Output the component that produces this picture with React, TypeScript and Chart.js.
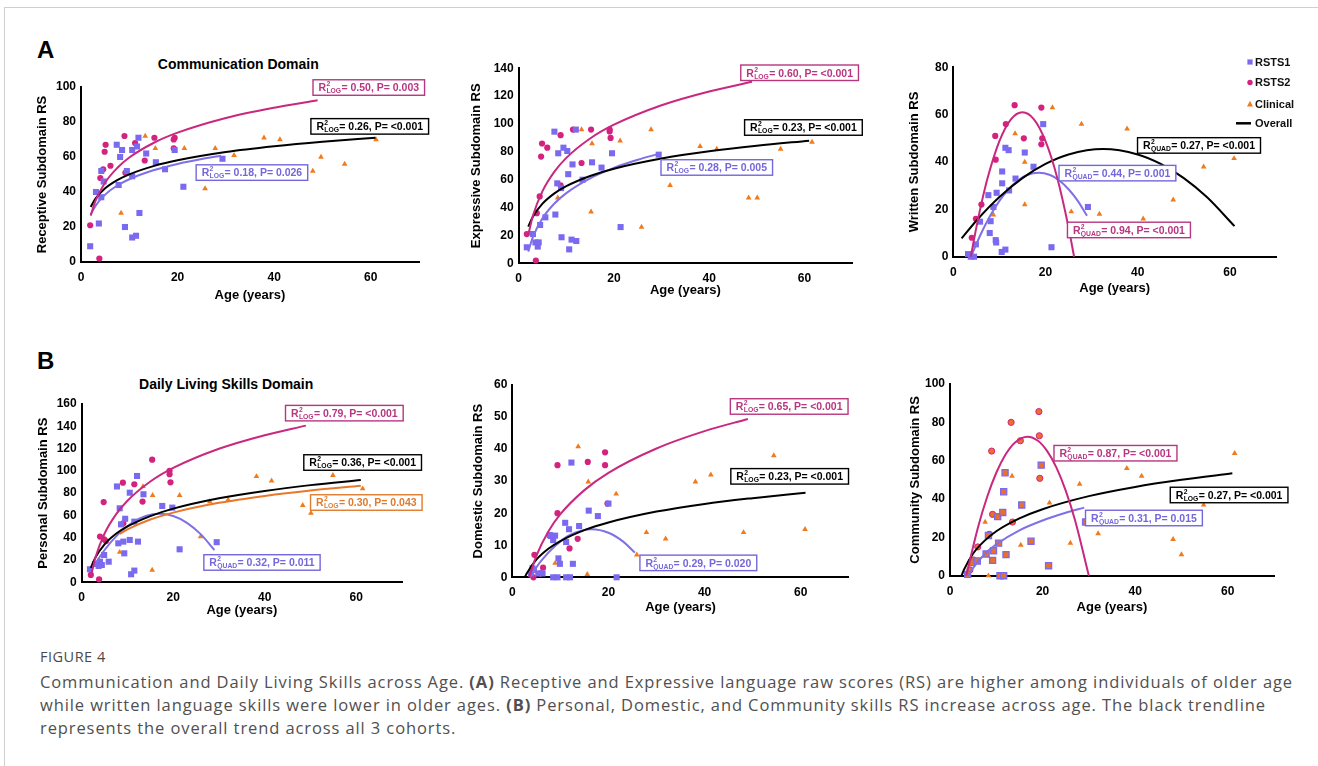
import React, { useEffect, useRef } from 'react';
import { Chart, registerables } from 'chart.js';
Chart.register(...registerables);

type Pt = [number, number];

// ---------- shared tick labels ----------
const ageTicks = [0, 20, 40, 60];

// ---------- Receptive ----------
const receptiveRSTS1: Pt[] = [[1.9,9],[3.1,40],[3.7,22],[4.2,52],[4.2,37],[4.7,46],[7.4,67],[7.8,44],[8.1,60],[8.5,64],[9.1,20],[9.5,52],[10.6,49],[10.6,64],[10.6,14],[11.4,15],[11.6,66],[11.9,71],[12.1,28],[13.5,62],[15.5,57],[17.4,53],[19.4,64],[21.2,43],[29.3,59]];
const receptiveRSTS2: Pt[] = [[1.9,21],[3.8,2],[4.0,48],[4.6,53],[4.9,63],[5.1,67],[6.1,55],[9.0,72],[9.2,51],[11.2,68],[13.2,58],[15.2,71],[19.2,70],[19.2,65],[19.4,71]];
const receptiveClinical: Pt[] = [[8.3,28],[13.3,72],[15.4,65],[21.4,65],[25.7,42],[27.8,65],[31.7,61],[37.9,71],[41.2,70],[48.0,52],[49.7,60],[54.6,56],[61.1,70]];
const receptiveFitRSTS2: Pt[] = [[2,26.5],[3,34.9],[5,45.4],[7.5,53.7],[10,59.7],[15,68],[20,73.9],[30,82.3],[40,88.2],[49,92.4]];
const receptiveFitOverall: Pt[] = [[2,31.5],[3,36.2],[5,42.1],[7.5,46.8],[10,50.1],[15,54.8],[20,58.1],[30,62.8],[40,66.1],[50,68.7],[61,71]];
const receptiveFitRSTS1: Pt[] = [[2,27],[3,32.1],[5,38.5],[7.5,43.7],[10,47.3],[15,52.4],[20,56],[25,58.8],[29,60.7]];

// ---------- Expressive ----------
const expressiveRSTS1: Pt[] = [[1.7,11.5],[3.0,21],[3.5,15],[4.0,12],[4.2,15],[4.5,27.5],[5.6,33],[7.5,94.5],[7.7,35],[8.1,57.4],[8.3,79],[8.9,54],[9.0,18.7],[9.4,83],[10.2,80.6],[10.4,64],[10.6,10],[11.1,17],[11.3,71],[12.0,96],[12.1,16],[13.4,60],[15.4,72.5],[17.4,68.7],[19.6,79],[21.4,26],[29.4,78]];
const expressiveRSTS2: Pt[] = [[1.7,21],[3.6,2],[3.8,36],[4.4,48],[4.7,76.6],[4.9,86],[6.0,83],[8.8,92],[8.8,56],[11.4,96],[13.2,72],[15.2,96],[19.1,96],[19.1,94.7],[19.3,90]];
const expressiveClinical: Pt[] = [[8.2,47],[13.2,96],[15.2,37],[15.4,86],[21.3,88],[25.8,26],[27.8,96],[31.8,56],[38.1,84],[41.6,82],[48.3,47],[50.1,47],[55.0,82],[61.6,87]];
const expressiveFitRSTS2: Pt[] = [[2,20.3],[3,34.3],[5,51.8],[7.5,65.8],[10,75.7],[15,89.6],[20,99.5],[30,113.5],[40,123.4],[49,130.3]];
const expressiveFitOverall: Pt[] = [[2,26.3],[3,33.6],[5,42.8],[7.5,50.2],[10,55.4],[15,62.7],[20,67.9],[30,75.2],[40,80.4],[50,84.4],[61,88]];
const expressiveFitRSTS1: Pt[] = [[2,8.4],[3,19],[5,32.3],[7.5,42.9],[10,50.4],[15,61],[20,68.5],[25,74.3],[29,78.2]];

// ---------- Written ----------
const writtenRSTS1: Pt[] = [[3.2,1.1],[3.8,0],[4.5,0],[4.9,5.2],[5.8,14.8],[7.6,26],[7.9,10],[8.1,15],[8.7,21],[9.2,7],[9.3,6],[9.4,27],[10.5,2],[10.6,36],[10.6,31],[11.3,3],[11.3,46],[12.0,45],[12.1,28],[13.5,33],[15.5,44],[17.4,38],[19.5,56],[21.3,4],[29.2,21]];
const writtenRSTS2: Pt[] = [[4.0,8],[4.9,16],[6.1,22],[9.1,51],[9.2,41],[11.4,56],[13.3,64],[15.3,50],[19.1,63],[19.3,50],[19.1,47.5]];
const writtenClinical: Pt[] = [[8.7,17.7],[13.4,52],[15.5,40],[15.5,22],[21.5,63],[25.6,19],[27.8,56],[31.7,18],[37.7,54],[41.2,16],[47.7,24],[49.6,9],[54.3,38],[60.9,41.5]];
const writtenFitRSTS2: Pt[] = [[3.8,0],[5,12.4],[6.5,25.9],[7.5,33.7],[10,48.8],[12.5,58],[15,61],[17.5,58],[20,48.8],[22.5,33.7],[25,12.4],[26.2,0]];
const writtenFitOverall: Pt[] = [[1.8,7.7],[5,15.2],[10,25.2],[15,33.2],[20,39.2],[25,43.2],[32.5,45.5],[40,43.2],[45,39.2],[50,33.2],[55,25.2],[61,12.9]];
const writtenFitRSTS1: Pt[] = [[4,0.8],[6,9.7],[8,17.3],[10,23.6],[12,28.5],[14,32.2],[16,34.5],[18.5,35.5],[21,34.5],[23,32.2],[25,28.5],[27,23.6],[29,17.3]];

// ---------- Personal ----------
const personalRSTS1: Pt[] = [[1.8,11.7],[2.9,16.4],[3.7,14.7],[4.0,18.5],[4.4,15.5],[4.9,24.5],[5.9,18.5],[7.7,86],[8.0,35],[8.3,66.4],[8.6,52],[9.1,36.5],[9.3,26],[9.5,57],[10.5,80.4],[10.5,38],[10.8,7.2],[11.5,10.5],[11.5,54.4],[12.1,95.4],[12.3,36.5],[13.5,79],[17.6,68.5],[19.8,67],[21.4,29.6],[29.5,36]];
const personalRSTS2: Pt[] = [[2.0,6.6],[3.8,2.7],[4.0,41],[4.8,72],[4.9,38.6],[5.3,37],[9.0,89.4],[9.1,53],[11.5,88],[13.3,72.4],[15.4,110],[19.2,100],[19.2,97],[19.4,89.7]];
const personalClinical: Pt[] = [[8.3,27],[13.4,86],[15.5,78],[15.4,11],[21.4,78],[26.0,41],[28.0,72.4],[32.0,74],[38.2,95],[41.5,91],[48.3,69],[50.1,62],[54.9,96],[61.4,84]];
const personalFitRSTS2: Pt[] = [[2,5],[3,22.2],[5,43.8],[7.5,61],[10,73.2],[15,90.4],[20,102.6],[30,119.8],[40,132],[49,140.6]];
const personalFitOverall: Pt[] = [[2,13],[3,22.3],[5,34.1],[7.5,43.5],[10,50.1],[15,59.4],[20,66.1],[30,75.4],[40,82],[50,87.2],[61,91.8]];
const personalFitClinical: Pt[] = [[8.3,43.4],[10,47.5],[15,56.3],[20,62.5],[30,71.3],[40,77.5],[50,82.4],[61,86.7]];
const personalFitRSTS1: Pt[] = [[2,10.7],[5,29],[8,43.2],[11,53.4],[14,59.5],[17,61.5],[20,59.5],[23,53.4],[26,43.2],[29,29]];

// ---------- Domestic ----------
const domesticRSTS1: Pt[] = [[3.9,1.2],[4.2,2.8],[4.5,2.3],[5.4,1.2],[6.3,1.2],[7.8,13.2],[8.0,12.9],[8.5,11.6],[8.9,13],[8.5,0],[9.4,0],[9.6,5.9],[9.9,4.2],[11.0,17],[11.2,11],[11.8,15],[11.2,0],[12.0,0],[12.3,35.8],[12.6,4.2],[13.9,16],[15.9,20.8],[17.8,19.1],[20.0,23],[21.7,0]];
const domesticRSTS2: Pt[] = [[4.4,0],[4.6,7],[5.8,1.2],[6.4,3],[9.4,35],[9.4,20],[11.9,9],[13.6,12],[15.7,36],[19.3,39],[19.3,35],[19.8,23]];
const domesticClinical: Pt[] = [[8.9,4.4],[13.7,40.8],[15.6,0.9],[15.8,29.8],[21.6,26],[25.9,7],[27.9,14],[31.9,12],[38.1,29.8],[41.3,32],[48.1,14],[49.8,5.9],[54.4,38],[60.9,15]];
const domesticFitRSTS2: Pt[] = [[3.5,0],[5,6.7],[7.5,14.3],[10,19.7],[15,27.2],[20,32.6],[30,40.2],[40,45.6],[49,49.4]];
const domesticFitOverall: Pt[] = [[2.6,0],[3,1.2],[5,5.5],[7.5,8.9],[10,11.3],[15,14.7],[20,17.1],[30,20.5],[40,22.9],[50,24.7],[61,26.4]];
const domesticFitRSTS1: Pt[] = [[3.6,0],[6,5.1],[9,9.9],[12,13.2],[16.5,15],[20,13.9],[23,11.2],[25.5,7.7]];

// ---------- Community ----------
const communityRSTS1: Pt[] = [[3.8,0.7],[4.7,6.8],[5.9,7.7],[7.8,11.3],[8.3,21],[9.2,8],[9.4,13],[10.3,30.8],[10.5,17],[10.8,0],[11.6,0],[11.4,33],[11.6,43.8],[11.9,53.7],[12.1,11],[15.5,36.9],[17.5,18],[19.7,57.7],[21.3,5.2],[29.3,28]];
const communityRSTS2: Pt[] = [[4.3,3],[5.1,8.2],[6.0,15],[8.5,21.6],[9.0,65],[9.2,32],[13.2,80],[13.5,28],[15.2,70.4],[19.2,85.6],[19.3,73],[19.4,50.8]];
const communityClinical: Pt[] = [[3.8,0],[7.6,28],[8.3,0],[13.4,52],[15.3,16],[21.5,38],[26.0,17],[28.0,47.8],[32.0,22],[38.2,56],[41.4,52],[48.2,19],[50.0,11],[54.8,36.9],[61.5,63.8]];
const communityFitRSTS2: Pt[] = [[3.5,0],[6,24.8],[8,40.9],[10,53.7],[12,63.2],[14,69.4],[16.75,72.5],[19,70.4],[21,65],[23,56.4],[25,44.4],[27,29.1],[30,0]];
const communityFitOverall: Pt[] = [[2.5,0],[3,3],[5,11.6],[7.5,18.3],[10,23.2],[15,29.9],[20,34.7],[30,41.5],[40,46.3],[50,50],[61,53.4]];
const communityFitRSTS1: Pt[] = [[4,0],[5,4],[7.5,11.3],[10,16.4],[15,23.7],[20,28.8],[25,32.8],[29,35.5]];

// ---------- styles ----------
const COL = {
  sq: '#7a6af0',
  ci: '#d4237f',
  tr: '#f07b1c',
  lineMag: '#c9287f',
  lineBlue: '#7e70e6',
  lineOrange: '#e8782a',
  black: '#000000',
  noteMag: '#b83580',
  noteBlue: '#7466dc',
  noteOrange: '#e07a2c',
  commFill: '#e8702a',
};
const FONT = '"Liberation Sans", Arial, Helvetica, sans-serif';

interface Note { x: number; y: number; sub: string; rest: string; color: string }
interface Fit { data: Pt[]; color: string }
interface PanelCfg {
  yLabel: string; yMax: number; yStep: number;
  plot: { l: number; t: number; r: number; b: number };
  yTitleX: number; xTitleY: number;
  rsts1: Pt[]; rsts2: Pt[]; clinical: Pt[];
  fits: Fit[]; notes: Note[];
  community?: boolean; legend?: boolean;
}

const panels: PanelCfg[] = [
  {
    yLabel: 'Receptive Subdomain RS', yMax: 100, yStep: 20,
    plot: { l: 81, t: 87, r: 419, b: 262 }, yTitleX: 42.7, xTitleY: 295,
    rsts1: receptiveRSTS1, rsts2: receptiveRSTS2, clinical: receptiveClinical,
    fits: [
      { data: receptiveFitRSTS2, color: COL.lineMag },
      { data: receptiveFitOverall, color: COL.black },
      { data: receptiveFitRSTS1, color: COL.lineBlue },
    ],
    notes: [
      { x: 59.6, y: 99.7, sub: 'LOG', rest: '= 0.50, P= 0.003', color: COL.noteMag },
      { x: 59.8, y: 77.5, sub: 'LOG', rest: '= 0.26, P= <0.001', color: COL.black },
      { x: 35.4, y: 51.1, sub: 'LOG', rest: '= 0.18, P= 0.026', color: COL.noteBlue },
    ],
  },
  {
    yLabel: 'Expressive Subdomain RS', yMax: 140, yStep: 20,
    plot: { l: 518.7, t: 68.3, r: 852, b: 263.3 }, yTitleX: 476.7, xTitleY: 290,
    rsts1: expressiveRSTS1, rsts2: expressiveRSTS2, clinical: expressiveClinical,
    fits: [
      { data: expressiveFitRSTS2, color: COL.lineMag },
      { data: expressiveFitOverall, color: COL.black },
      { data: expressiveFitRSTS1, color: COL.lineBlue },
    ],
    notes: [
      { x: 59.0, y: 136.8, sub: 'LOG', rest: '= 0.60, P= <0.001', color: COL.noteMag },
      { x: 59.8, y: 97.5, sub: 'LOG', rest: '= 0.23, P= <0.001', color: COL.black },
      { x: 41.6, y: 68.8, sub: 'LOG', rest: '= 0.28, P= 0.005', color: COL.noteBlue },
    ],
  },
  {
    yLabel: 'Written Subdomain RS', yMax: 80, yStep: 20,
    plot: { l: 953.3, t: 67.3, r: 1276, b: 256.7 }, yTitleX: 915, xTitleY: 288,
    rsts1: writtenRSTS1, rsts2: writtenRSTS2, clinical: writtenClinical,
    fits: [
      { data: writtenFitRSTS2, color: COL.lineMag },
      { data: writtenFitOverall, color: COL.black },
      { data: writtenFitRSTS1, color: COL.lineBlue },
    ],
    notes: [
      { x: 53.3, y: 47.0, sub: 'QUAD', rest: '= 0.27, P= <0.001', color: COL.black },
      { x: 35.6, y: 35.3, sub: 'QUAD', rest: '= 0.44, P= 0.001', color: COL.noteBlue },
      { x: 38.1, y: 11.3, sub: 'QUAD', rest: '= 0.94, P= <0.001', color: COL.noteMag },
    ],
    legend: true,
  },
  {
    yLabel: 'Personal Subdomain RS', yMax: 160, yStep: 20,
    plot: { l: 81.7, t: 404, r: 402, b: 582.3 }, yTitleX: 44, xTitleY: 610,
    rsts1: personalRSTS1, rsts2: personalRSTS2, clinical: personalClinical,
    fits: [
      { data: personalFitRSTS2, color: COL.lineMag },
      { data: personalFitOverall, color: COL.black },
      { data: personalFitClinical, color: COL.lineOrange },
      { data: personalFitRSTS1, color: COL.lineBlue },
    ],
    notes: [
      { x: 57.4, y: 151.8, sub: 'LOG', rest: '= 0.79, P= <0.001', color: COL.noteMag },
      { x: 61.4, y: 107.5, sub: 'LOG', rest: '= 0.36, P= <0.001', color: COL.black },
      { x: 62.2, y: 71.6, sub: 'LOG', rest: '= 0.30, P= 0.043', color: COL.noteOrange },
      { x: 39.4, y: 17.8, sub: 'QUAD', rest: '= 0.32, P= 0.011', color: COL.noteBlue },
    ],
  },
  {
    yLabel: 'Domestic Subdomain RS', yMax: 60, yStep: 10,
    plot: { l: 512.3, t: 385, r: 848.8, b: 577.3 }, yTitleX: 478.3, xTitleY: 606.7,
    rsts1: domesticRSTS1, rsts2: domesticRSTS2, clinical: domesticClinical,
    fits: [
      { data: domesticFitRSTS2, color: COL.lineMag },
      { data: domesticFitOverall, color: COL.black },
      { data: domesticFitRSTS1, color: COL.lineBlue },
    ],
    notes: [
      { x: 57.6, y: 53.3, sub: 'LOG', rest: '= 0.65, P= <0.001', color: COL.noteMag },
      { x: 57.7, y: 31.5, sub: 'LOG', rest: '= 0.23, P= <0.001', color: COL.black },
      { x: 38.7, y: 4.5, sub: 'QUAD', rest: '= 0.29, P= 0.020', color: COL.noteBlue },
    ],
  },
  {
    yLabel: 'Community Subdomain RS', yMax: 100, yStep: 20,
    plot: { l: 950, t: 384, r: 1274, b: 575.7 }, yTitleX: 916, xTitleY: 606.7,
    rsts1: communityRSTS1, rsts2: communityRSTS2, clinical: communityClinical,
    fits: [
      { data: communityFitRSTS2, color: COL.lineMag },
      { data: communityFitOverall, color: COL.black },
      { data: communityFitRSTS1, color: COL.lineBlue },
    ],
    notes: [
      { x: 35.75, y: 63.9, sub: 'QUAD', rest: '= 0.87, P= <0.001', color: COL.noteMag },
      { x: 60.3, y: 42.1, sub: 'LOG', rest: '= 0.27, P= <0.001', color: COL.black },
      { x: 41.9, y: 30.1, sub: 'QUAD', rest: '= 0.31, P= 0.015', color: COL.noteBlue },
    ],
    community: true,
  },
];

const legendItems = [
  { label: 'RSTS1', kind: 'sq', y: 62 },
  { label: 'RSTS2', kind: 'ci', y: 82.5 },
  { label: 'Clinical', kind: 'tr', y: 104 },
  { label: 'Overall', kind: 'line', y: 123.3 },
];

const toXY = (p: Pt[]) => p.map(([x, y]) => ({ x, y }));
const HALF_LH = (13 * 1.2) / 2;

function geometry(cfg: PanelCfg) {
  const padTop = 25;
  const left = Math.round(cfg.yTitleX - HALF_LH);
  const top = Math.round(cfg.plot.t - padTop);
  const right = cfg.legend ? 1318 : Math.round(cfg.plot.r + 40);
  const bottom = Math.round(cfg.xTitleY + HALF_LH);
  return {
    left, top, width: right - left, height: bottom - top,
    padTop: cfg.plot.t - top, padRight: right - cfg.plot.r,
    yW: cfg.plot.l - left, xH: bottom - cfg.plot.b,
  };
}

function drawNote(ctx: CanvasRenderingContext2D, n: Note, cx: number, cy: number) {
  const fMain = `bold 10.5px ${FONT}`;
  const fSmall = `bold 6.8px ${FONT}`;
  ctx.font = fMain;
  const wR = ctx.measureText('R').width;
  const wRest = ctx.measureText(n.rest).width;
  ctx.font = fSmall;
  const w2 = ctx.measureText('2').width;
  const wSub = ctx.measureText(n.sub).width;
  const wMid = Math.max(w2, wSub) + 0.6;
  const tw = wR + wMid + wRest;
  const bw = tw + 11, bh = 15.5;
  const bx = cx - bw / 2, by = cy - bh / 2;
  ctx.save();
  ctx.fillStyle = '#ffffff';
  ctx.fillRect(bx, by, bw, bh);
  ctx.strokeStyle = n.color;
  ctx.lineWidth = 1.4;
  ctx.strokeRect(bx, by, bw, bh);
  ctx.fillStyle = n.color;
  ctx.textBaseline = 'alphabetic';
  ctx.textAlign = 'left';
  const x = bx + 5.5;
  ctx.font = fMain;
  ctx.fillText('R', x, cy + 3.8);
  ctx.font = fSmall;
  ctx.fillText('2', x + wR + 0.3, cy - 1.2);
  ctx.fillText(n.sub, x + wR + 0.3, cy + 5.8);
  ctx.font = fMain;
  ctx.fillText(n.rest, x + wR + wMid, cy + 3.8);
  ctx.restore();
}

function Panel({ cfg }: { cfg: PanelCfg }) {
  const ref = useRef<HTMLCanvasElement>(null);
  const g = geometry(cfg);
  useEffect(() => {
    const canvas = ref.current;
    if (!canvas) return;
    const fitSets = cfg.fits.map((f) => ({
      data: toXY(f.data),
      showLine: true,
      borderColor: f.color,
      backgroundColor: f.color,
      borderWidth: 2,
      pointRadius: 0,
      pointHoverRadius: 0,
      tension: 0.4,
      cubicInterpolationMode: 'monotone' as const,
      fill: false,
      clip: false as any,
    }));
    const pts = [
      {
        data: toXY(cfg.rsts1), pointStyle: 'rect', pointRadius: 4.3,
        backgroundColor: cfg.community ? COL.commFill : COL.sq,
        borderColor: COL.sq, borderWidth: cfg.community ? 1.3 : 0,
      },
      {
        data: toXY(cfg.rsts2), pointStyle: 'circle', pointRadius: 3.1,
        backgroundColor: cfg.community ? COL.commFill : COL.ci,
        borderColor: COL.ci, borderWidth: cfg.community ? 1 : 0,
      },
      {
        data: toXY(cfg.clinical), pointStyle: 'triangle', pointRadius: 3.3,
        backgroundColor: COL.tr, borderColor: COL.tr, borderWidth: 0,
      },
    ].map((d) => ({ ...d, showLine: false, clip: false as any }));

    const notesPlugin = {
      id: 'notes',
      afterDatasetsDraw(chart: any) {
        const ctx: CanvasRenderingContext2D = chart.ctx;
        const xs = chart.scales.x, ys = chart.scales.y;
        cfg.notes.forEach((n) => drawNote(ctx, n, xs.getPixelForValue(n.x), ys.getPixelForValue(n.y)));
        if (cfg.legend) {
          ctx.save();
          const ox = 1250 - g.left;
          legendItems.forEach((it) => {
            const y = it.y - g.top;
            if (it.kind === 'sq') {
              ctx.fillStyle = COL.sq;
              ctx.fillRect(ox - 2.6, y - 2.6, 5.2, 5.2);
            } else if (it.kind === 'ci') {
              ctx.fillStyle = COL.ci;
              ctx.beginPath(); ctx.arc(ox, y, 2.7, 0, Math.PI * 2); ctx.fill();
            } else if (it.kind === 'tr') {
              ctx.fillStyle = COL.tr;
              ctx.beginPath();
              ctx.moveTo(ox, y - 3.2); ctx.lineTo(ox + 3, y + 2.4); ctx.lineTo(ox - 3, y + 2.4);
              ctx.closePath(); ctx.fill();
            } else {
              ctx.strokeStyle = '#000'; ctx.lineWidth = 2.5;
              ctx.beginPath(); ctx.moveTo(ox - 14, y); ctx.lineTo(ox + 1, y); ctx.stroke();
            }
            ctx.fillStyle = '#111';
            ctx.font = `bold 11px ${FONT}`;
            ctx.textBaseline = 'middle';
            ctx.textAlign = 'left';
            ctx.fillText(it.label, ox + 5, y + 0.5);
          });
          ctx.restore();
        }
      },
    };

    const chart = new Chart(canvas, {
      type: 'scatter',
      data: { datasets: [...fitSets, ...pts] as any },
      options: {
        responsive: false,
        animation: false,
        events: [],
        layout: { padding: { left: 0, top: g.padTop, right: g.padRight, bottom: 0 } },
        plugins: { legend: { display: false }, tooltip: { enabled: false }, title: { display: false } },
        scales: {
          x: {
            type: 'linear', min: 0, max: 70,
            afterBuildTicks: (s: any) => { s.ticks = ageTicks.map((v) => ({ value: v })); },
            afterFit: (s: any) => { s.height = g.xH; },
            grid: { display: false, drawTicks: false },
            border: { display: true, color: '#000', width: 2 },
            ticks: { color: '#000', font: { family: FONT, size: 12, weight: 'bold' }, padding: 8.5, maxRotation: 0 },
            title: { display: true, text: 'Age (years)', color: '#000', font: { family: FONT, size: 13, weight: 'bold' }, padding: 0 },
          },
          y: {
            type: 'linear', min: 0, max: cfg.yMax,
            afterFit: (s: any) => { s.width = g.yW; },
            grid: { display: false, drawTicks: false },
            border: { display: true, color: '#000', width: 2 },
            ticks: { stepSize: cfg.yStep, color: '#000', font: { family: FONT, size: 12, weight: 'bold' }, padding: 5 },
            title: { display: true, text: cfg.yLabel, color: '#000', font: { family: FONT, size: 13, weight: 'bold' }, padding: 0 },
          },
        },
      } as any,
      plugins: [notesPlugin],
    });
    return () => chart.destroy();
  }, []);
  return (
    <canvas
      ref={ref}
      width={g.width}
      height={g.height}
      style={{ position: 'absolute', left: g.left, top: g.top, width: g.width, height: g.height }}
    />
  );
}

const captionLines = [
  ['Communication and Daily Living Skills across Age. ', '(A)', ' Receptive and Expressive language raw scores (RS) are higher among individuals of older age'],
  ['while written language skills were lower in older ages. ', '(B)', ' Personal, Domestic, and Community skills RS increase across age. The black trendline'],
  ['represents the overall trend across all 3 cohorts.', '', ''],
];

export default function App() {
  const abs = (o: React.CSSProperties): React.CSSProperties => ({ position: 'absolute', ...o });
  return (
    <div style={{ position: 'relative', width: 1318, height: 766, background: '#fff', overflow: 'hidden' }}>
      <style>{`body{margin:0;background:#fff}`}</style>
      <div style={abs({ left: 4, top: 7, width: 1314, height: 759, borderTop: '1px solid #cfcfcf', borderLeft: '1px solid #cfcfcf', boxSizing: 'border-box' })} />
      <div style={abs({ left: 37, top: 38, font: `bold 24px ${FONT}`, lineHeight: '24px', color: '#000' })}>A</div>
      <div style={abs({ left: 37, top: 348.6, font: `bold 24px ${FONT}`, lineHeight: '24px', color: '#000' })}>B</div>
      <div style={abs({ left: 138.3, width: 200, top: 57.2, textAlign: 'center', font: `bold 14px ${FONT}`, lineHeight: '14px', color: '#000', whiteSpace: 'nowrap' })}>Communication Domain</div>
      <div style={abs({ left: 126.2, width: 200, top: 376.5, textAlign: 'center', font: `bold 14px ${FONT}`, lineHeight: '14px', color: '#000', whiteSpace: 'nowrap' })}>Daily Living Skills Domain</div>
      {panels.map((p, i) => <Panel key={i} cfg={p} />)}
      <div style={abs({ left: 40, top: 647, font: `14.5px "Open Sans", sans-serif`, lineHeight: '20px', color: '#4a4a4a', letterSpacing: '0.5px' })}>FIGURE 4</div>
      {captionLines.map((ln, i) => (
        <div key={i} style={abs({ left: 40, top: 669.5 + i * 23, font: `16.5px "Open Sans", sans-serif`, lineHeight: '23px', color: '#505050', whiteSpace: 'nowrap', letterSpacing: '0.9px' })}>
          {ln[0]}{ln[1] ? <b>{ln[1]}</b> : null}{ln[2]}
        </div>
      ))}
    </div>
  );
}
